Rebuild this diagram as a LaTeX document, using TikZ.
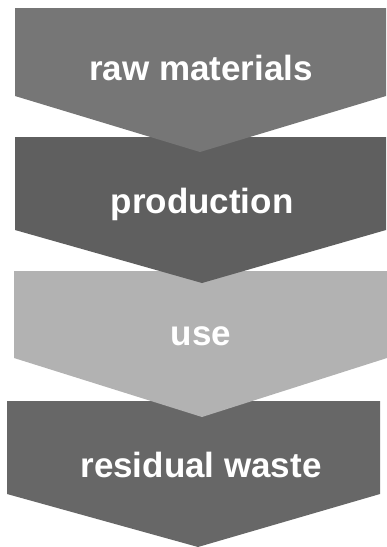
\documentclass[tikz,border=0pt]{standalone}
\usepackage{fontspec}
\setmainfont{Liberation Sans}
\usepackage{tikz}
\usetikzlibrary{positioning}
\definecolor{CycGrey}{HTML}{767676}
\definecolor{CycDark}{HTML}{5F5F5F}
\definecolor{CycLight}{HTML}{B2B2B2}
\definecolor{CycMid}{HTML}{676767}

\begin{document}
\begin{tikzpicture}[x=1pt,y=-1pt,
 phaselabel/.style={text=white,font=\bfseries\fontsize{35}{40}\selectfont,anchor=base,inner sep=0pt}]
\useasboundingbox (0,0) rectangle (387,547);
% chevrons drawn bottom-up, so each tip lies over the next block
\foreach \lx/\rx/\tp/\sh/\px/\py/\col in {7/380/401/494/198/547/CycMid,
 14/387/271/358/202/417/CycLight, 15/386/137/230/202/283/CycDark,
 15/386/8/96/200/152/CycGrey}
 \fill[\col] (\lx,\tp) -- (\rx,\tp) -- (\rx,\sh) -- (\px,\py) -- (\lx,\sh) -- cycle;
\node[phaselabel] (raw) at (201,80) {raw materials};
\node[phaselabel] (prod) at (202,213) {production};
\node[phaselabel] (use) at (201,345) {use};
\node[phaselabel] (waste) at (201,477) {residual waste};
\end{tikzpicture}
\end{document}
